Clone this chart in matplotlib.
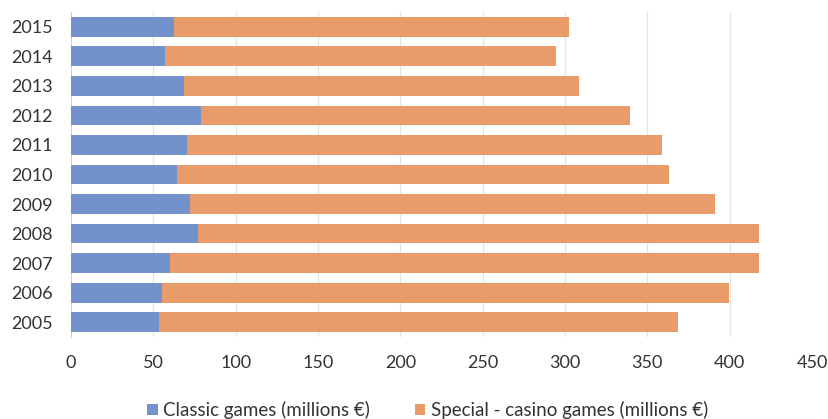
import matplotlib
matplotlib.use("Agg")
import matplotlib.pyplot as plt
import numpy as np

years = ["2005", "2006", "2007", "2008", "2009", "2010", "2011", "2012", "2013", "2014", "2015"]
classic = [53.6, 55.1, 60.1, 76.9, 72.3, 64.6, 70.4, 78.8, 68.4, 56.9, 62.6]
totals = [368.8, 399.4, 418.0, 418.0, 391.1, 362.9, 358.9, 339.5, 308.7, 294.5, 302.2]
special = [t - c for t, c in zip(totals, classic)]
xticks = [0, 50, 100, 150, 200, 250, 300, 350, 400, 450]

blue = "#7391CA"
orange = "#E99C69"

plt.rcParams['font.family'] = ['Lato', 'DejaVu Sans']

fig = plt.figure(figsize=(8.29, 4.19), dpi=100)
ax = fig.add_axes([0.0856, 0.1957, 0.8939, 0.7757])

y = np.arange(len(years))
ax.barh(y, classic, height=0.67, color=blue, label="Classic games (millions €)", zorder=3)
ax.barh(y, special, left=classic, height=0.67, color=orange,
        label="Special - casino games (millions €)", zorder=3)

ax.set_ylim(-0.5, len(years) - 0.5)
ax.set_xlim(0, 450)
ax.set_yticks(y)
ax.set_yticklabels(years)
ax.set_xticks(xticks)

# light vertical gridlines, none at the right edge
for v in xticks[1:-1]:
    ax.axvline(v, color="#e3e3e3", lw=0.9, zorder=1)

for s in ["top", "right", "bottom"]:
    ax.spines[s].set_visible(False)
ax.spines["left"].set_color("#cfcfcf")
ax.tick_params(axis="both", length=0, labelsize=13, colors="#333333")
ax.tick_params(axis="x", pad=13)
ax.tick_params(axis="y", pad=13)

ax.legend(loc="center", bbox_to_anchor=(0.516, 0.022), bbox_transform=fig.transFigure,
          ncol=2, frameon=False, fontsize=13.5, handlelength=0.55, handleheight=0.55,
          columnspacing=2.4, handletextpad=0.3, labelcolor="#333333")

fig.savefig("out.png", dpi=100)
